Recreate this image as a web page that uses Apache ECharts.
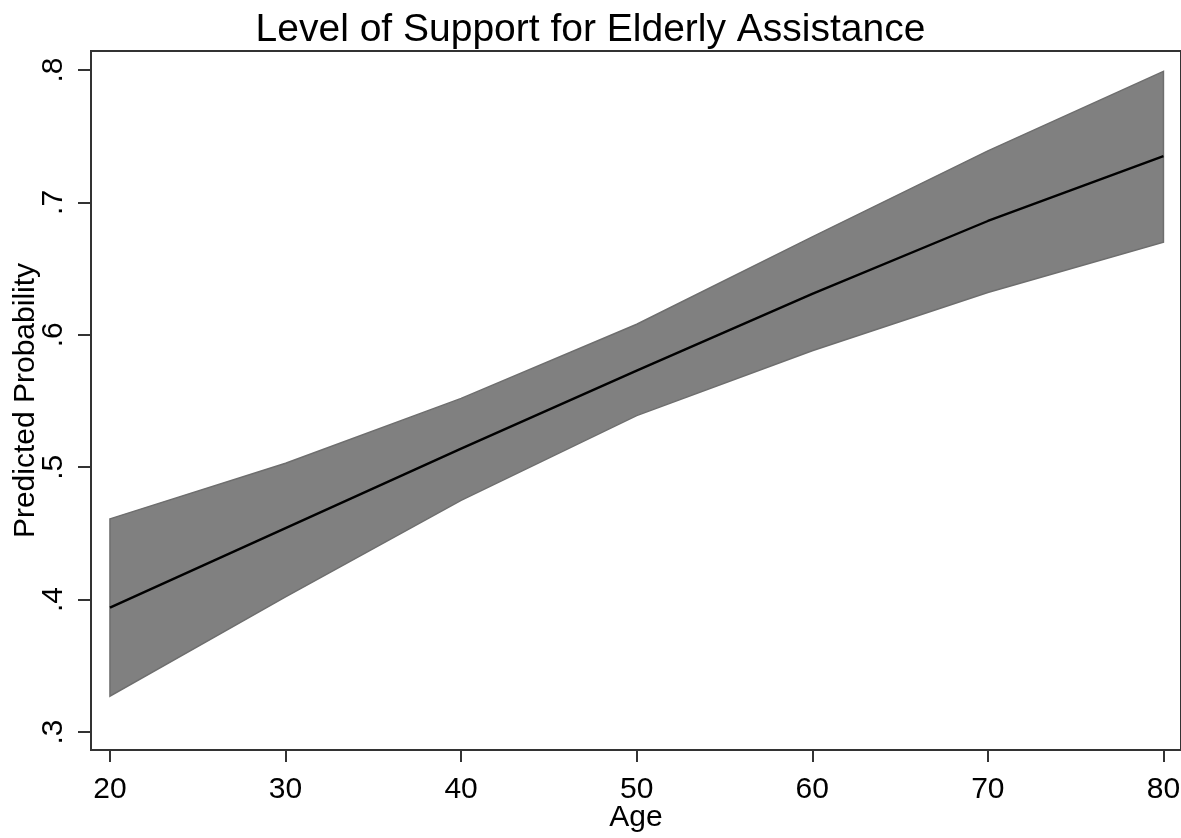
<!DOCTYPE html>
<html>
<head>
<meta charset="utf-8">
<script src="https://cdn.jsdelivr.net/npm/echarts@6/dist/echarts.min.js"></script>
<style>
  html, body { margin: 0; padding: 0; background: #fff; }
  #chart { width: 1181px; height: 838px; }
</style>
</head>
<body>
<div id="chart"></div>
<script>
// Predicted probability of support by age, with confidence band
const ages = [20, 30, 40, 50, 60, 70, 80];
const predicted = [0.394, 0.454, 0.514, 0.573, 0.631, 0.686, 0.735];
const upperCI = [0.461, 0.503, 0.552, 0.608, 0.674, 0.739, 0.799];
const lowerCI = [0.327, 0.402, 0.475, 0.539, 0.588, 0.632, 0.670];
const xTicks = [20, 30, 40, 50, 60, 70, 80];
const yTicks = [0.3, 0.4, 0.5, 0.6, 0.7, 0.8];

const FONT = 'Liberation Sans, Arial, sans-serif';
const pairs = (ys) => ages.map((a, i) => [a, ys[i]]);

// Band polygon: upper bound left-to-right, then lower bound back
function renderBand(params, api) {
  if (params.dataIndex !== 0) return null;
  const pts = [];
  for (let i = 0; i < ages.length; i++) pts.push(api.coord([ages[i], upperCI[i]]));
  for (let i = ages.length - 1; i >= 0; i--) pts.push(api.coord([ages[i], lowerCI[i]]));
  return {
    type: 'polygon',
    shape: { points: pts },
    style: { fill: '#808080', stroke: '#6e6e6e', lineWidth: 1.5 }
  };
}

const chart = echarts.init(document.getElementById('chart'), null, { renderer: 'canvas' });
chart.setOption({
  animation: false,
  backgroundColor: '#fff',
  title: {
    text: 'Level of Support for Elderly Assistance',
    left: 'center',
    top: 6,
    textStyle: { fontFamily: FONT, fontSize: 39, fontWeight: 'normal', color: '#000' }
  },
  grid: {
    left: 91, right: 0, top: 51, bottom: 88,
    outerBoundsMode: 'none',
    containLabel: false,
    show: true, borderColor: '#333', borderWidth: 2, backgroundColor: '#fff'
  },
  xAxis: {
    type: 'value',
    min: 18.92, max: 81.0,
    name: 'Age',
    nameLocation: 'middle',
    nameGap: 53,
    nameMoveOverlap: false,
    nameTextStyle: { fontFamily: FONT, fontSize: 30, color: '#000' },
    axisLine: { show: true, lineStyle: { color: '#333', width: 2 } },
    axisTick: { show: true, length: 12, lineStyle: { color: '#333', width: 2 }, customValues: xTicks },
    axisLabel: { fontFamily: FONT, fontSize: 30, color: '#000', margin: 25, customValues: xTicks },
    splitLine: { show: false }
  },
  yAxis: {
    type: 'value',
    min: 0.2864, max: 0.8144,
    name: 'Predicted Probability',
    nameLocation: 'middle',
    nameGap: 50,
    nameMoveOverlap: false,
    nameRotate: 90,
    nameTextStyle: { fontFamily: FONT, fontSize: 30, color: '#000' },
    axisLine: { show: true, lineStyle: { color: '#333', width: 2 } },
    axisTick: { show: true, length: 13, lineStyle: { color: '#333', width: 2 }, customValues: yTicks },
    axisLabel: {
      fontFamily: FONT, fontSize: 30, color: '#000', margin: 22, rotate: 90,
      customValues: yTicks,
      formatter: (v) => String(Math.round(v * 10) / 10).replace(/^0/, '')
    },
    splitLine: { show: false }
  },
  series: [
    {
      name: 'band',
      type: 'custom',
      renderItem: renderBand,
      data: pairs(upperCI),
      encode: { x: 0, y: 1 },
      clip: true,
      silent: true,
      z: 2
    },
    {
      name: 'predicted',
      type: 'line',
      data: pairs(predicted),
      symbol: 'none',
      lineStyle: { color: '#000', width: 2.4 },
      z: 5
    }
  ]
});
</script>
</body>
</html>
